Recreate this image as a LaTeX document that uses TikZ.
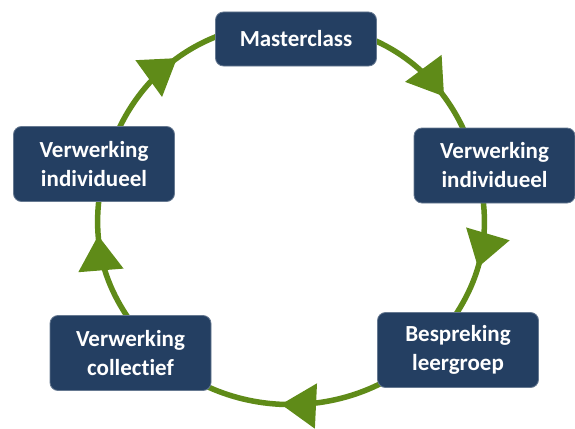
\documentclass[tikz,border=0pt]{standalone}
\usepackage{fontspec}
\setmainfont[Ligatures=NoCommon]{Carlito}
\usetikzlibrary{arrows.meta,decorations.markings,calc}
\definecolor{boxblue}{RGB}{36,63,98}
\definecolor{leafgreen}{RGB}{95,139,24}

\begin{document}
\begin{tikzpicture}[x=1pt,y=-1pt,stage/.style={draw=boxblue!70!white, line width=0.8pt, fill=boxblue, rounded corners=8pt, text=white, font=\fontsize{23}{29}\selectfont\bfseries, align=center, minimum width=161pt, minimum height=75pt, inner sep=0pt},flow/.style={draw=leafgreen, line width=5.5pt, postaction={decorate}, decoration={markings, mark=at position #1 with {\arrow[leafgreen]{Triangle[length=35pt,width=44pt]}}}}]
\useasboundingbox (0,0) rectangle (575,428);
\coordinate (c) at (291,215);
\coordinate (pm) at ($(c)+(-88:192)$);
\coordinate (pr) at ($(c)+(-14:192)$);
\coordinate (pb) at ($(c)+(39:192)$);
\coordinate (pc) at ($(c)+(139:192)$);
\coordinate (pl) at ($(c)+(194.5:192)$);
\draw[flow=0.68] (pm) to[bend left=37] (pr);
\draw[flow=0.56] (pr) to[bend left=26.5] (pb);
\draw[flow=0.54] (pb) to[bend left=50] (pc);
\draw[flow=0.63] (pc) to[bend left=27.75] (pl);
\draw[flow=0.51] (pl) to[bend left=38.75] (pm);
\node[stage, minimum height=54pt] (master) at (296,39) {Masterclass};
\node[stage] (indivR) at (494.5,165.5) {Verwerking\\individueel};
\node[stage] (bespreking) at (458,350) {Bespreking\\leergroep};
\node[stage] (collectief) at (130.5,353) {Verwerking\\collectief};
\node[stage] (indivL) at (94,164) {Verwerking\\individueel};
\end{tikzpicture}
\end{document}
